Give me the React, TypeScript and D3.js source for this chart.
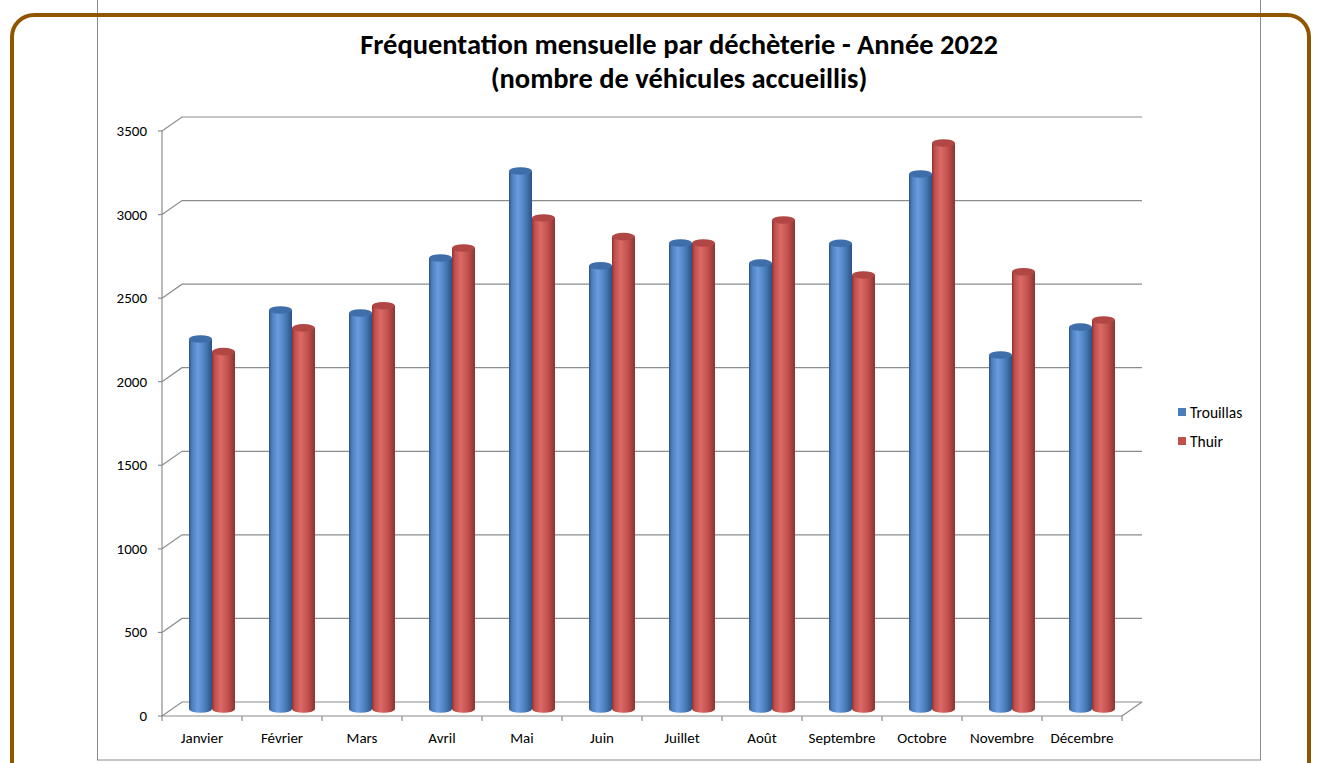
import React from "react";
import * as d3 from "d3";

const months = [
  "Janvier", "Février", "Mars", "Avril", "Mai", "Juin",
  "Juillet", "Août", "Septembre", "Octobre", "Novembre", "Décembre",
];
const series = ["Trouillas", "Thuir"];
const trouillas = [2214, 2387, 2369, 2698, 3219, 2652, 2788, 2668, 2786, 3201, 2118, 2285];
const thuir = [2138, 2280, 2413, 2758, 2938, 2826, 2788, 2926, 2597, 3386, 2616, 2327];
const yTicks = [0, 500, 1000, 1500, 2000, 2500, 3000, 3500];

const titleLines = [
  "Fréquentation mensuelle par déchèterie - Année 2022",
  "(nombre de véhicules accueillis)",
];

const W = 1317;
const H = 763;
const font = "Calibri, 'Open Sans', sans-serif";

// perspective offset of the back wall
const depth = { dx: 20, dy: -14 };

const colors: Record<string, { base: string; light: string; dark: string; top: string }> = {
  Trouillas: { base: "#4a7ebb", light: "#6a9de0", dark: "#2c5286", top: "#3f6fab" },
  Thuir: { base: "#c0504d", light: "#dc6a67", dark: "#8c3331", top: "#b04744" },
};

export default function App() {
  const x = d3.scaleBand<string>().domain(months).range([162, 1122]).padding(0);
  const y = d3.scaleLinear().domain([0, 3500]).range([716, 131]);
  const inner = d3
    .scaleBand<string>()
    .domain(series)
    .range([0, x.bandwidth()])
    .paddingInner(0)
    .paddingOuter(0.74);

  const values: Record<string, number[]> = { Trouillas: trouillas, Thuir: thuir };
  const bw = inner.bandwidth();
  const ry = 3.8;
  const xEnd = x.range()[1];

  return (
    <svg
      width={W}
      height={H}
      style={{ position: "absolute", left: 0, top: 0, background: "#fff" }}
    >
      <defs>
        {series.map((s) => (
          <linearGradient key={s} id={`cyl-${s}`} x1="0" x2="1" y1="0" y2="0">
            <stop offset="0" stopColor={colors[s].dark} />
            <stop offset="0.12" stopColor={colors[s].base} />
            <stop offset="0.38" stopColor={colors[s].light} />
            <stop offset="0.7" stopColor={colors[s].base} />
            <stop offset="1" stopColor={colors[s].dark} />
          </linearGradient>
        ))}
      </defs>

      {/* chart area */}
      <rect x={97.5} y={-5} width={1163} height={765} fill="#fff" stroke="#8c8c8c" strokeWidth={1} />

      {/* title */}
      <text
        x={679}
        textAnchor="middle"
        fontFamily={font}
        fontWeight="bold"
        fontSize={28.5}
        fill="#000"
      >
        {titleLines.map((t, i) => (
          <tspan key={i} x={679} y={54 + i * 34}>
            {t}
          </tspan>
        ))}
      </text>

      {/* gridlines with side wall slant */}
      <g stroke="#8c8c8c" strokeWidth={1.2} fill="none">
        {yTicks.map((t) => (
          <polyline
            key={t}
            points={`${x.range()[0]},${y(t)} ${x.range()[0] + depth.dx},${y(t) + depth.dy} ${xEnd + depth.dx},${y(t) + depth.dy}`}
          />
        ))}
        <line x1={x.range()[0]} x2={x.range()[0]} y1={y(0)} y2={y(3500)} />
        <line x1={x.range()[0]} x2={xEnd} y1={y(0)} y2={y(0)} />
        <line x1={xEnd} x2={xEnd + depth.dx} y1={y(0)} y2={y(0) + depth.dy} />
        {yTicks.map((t) => (
          <line key={`yt${t}`} x1={x.range()[0] - 4} x2={x.range()[0]} y1={y(t)} y2={y(t)} />
        ))}
        {months.concat([""]).map((m, i) => {
          const xx = x.range()[0] + i * x.step();
          return <line key={`xt${i}`} x1={xx} x2={xx} y1={y(0)} y2={y(0) + 5} />;
        })}
      </g>

      {/* y labels */}
      <g fontFamily={font} fontSize={15} fill="#000" textAnchor="end">
        {yTicks.map((t) => (
          <text key={t} x={147} y={y(t) + 5}>
            {t}
          </text>
        ))}
      </g>

      {/* x labels */}
      <g fontFamily={font} fontSize={15} fill="#000" textAnchor="middle">
        {months.map((m) => (
          <text key={m} x={(x(m) ?? 0) + x.bandwidth() / 2} y={743}>
            {m}
          </text>
        ))}
      </g>

      {/* cylinders */}
      <g>
        {months.map((m, i) =>
          series.map((s) => {
            const x0 = (x(m) ?? 0) + (inner(s) ?? 0) + depth.dx / 2;
            const yBase = y(0) + depth.dy / 2;
            const yTop = y(values[s][i]) + depth.dy / 2;
            const cx = x0 + bw / 2;
            return (
              <g key={`${m}-${s}`}>
                <ellipse cx={cx} cy={yBase} rx={bw / 2} ry={ry} fill={`url(#cyl-${s})`} />
                <rect x={x0} y={yTop} width={bw} height={yBase - yTop} fill={`url(#cyl-${s})`} />
                <ellipse cx={cx} cy={yTop} rx={bw / 2} ry={ry} fill={colors[s].top} />
              </g>
            );
          })
        )}
      </g>

      {/* legend */}
      <g fontFamily={font} fontSize={15.5} fill="#000">
        {series.map((s, i) => (
          <g key={s} transform={`translate(1178,${408 + i * 29})`}>
            <rect width={8} height={8} fill={colors[s].base} />
            <text x={12} y={9.5}>
              {s}
            </text>
          </g>
        ))}
      </g>

      {/* outer brown frame */}
      <rect x={12} y={15} width={1297} height={770} rx={22} fill="none" stroke="#915500" strokeWidth={4} />
    </svg>
  );
}
